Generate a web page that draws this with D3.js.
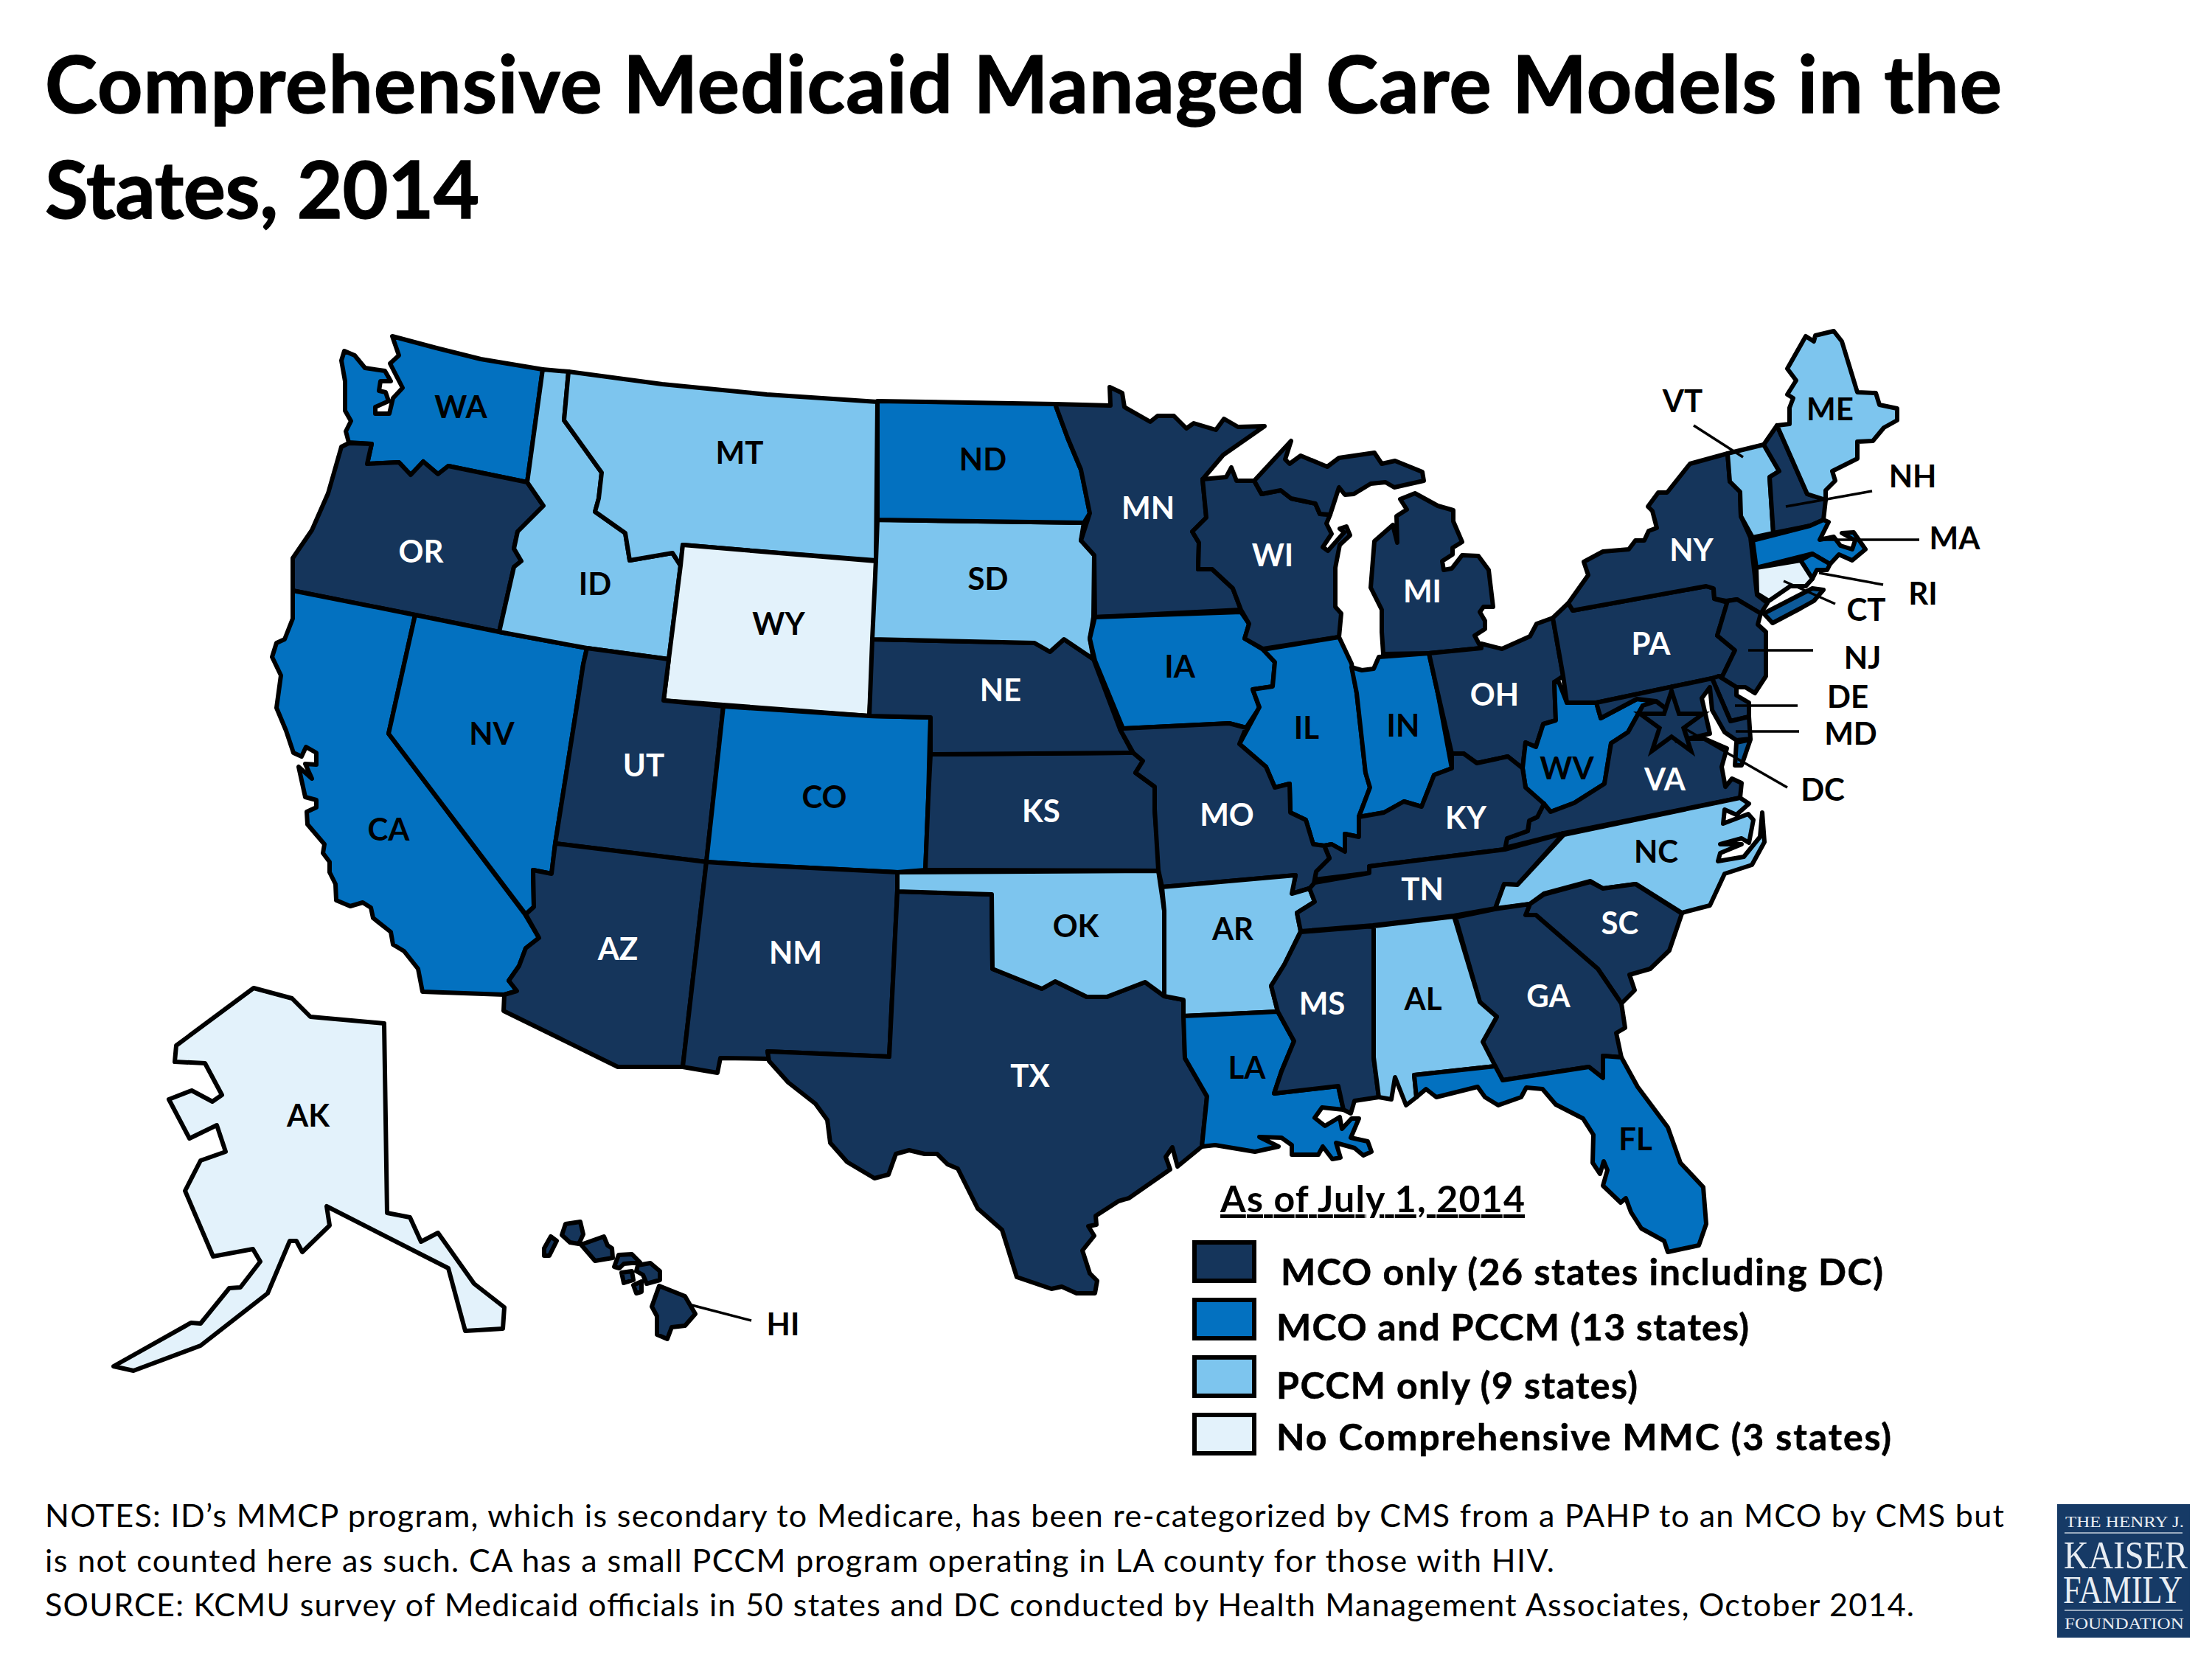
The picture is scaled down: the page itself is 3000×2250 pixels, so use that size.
<!DOCTYPE html>
<html>
<head>
<meta charset="utf-8">
<script src="https://d3js.org/d3.v7.min.js"></script>
<style>
  html, body { margin: 0; padding: 0; background: #fff; }
  text { font-family: Lato, sans-serif; }
</style>
</head>
<body>
<script>
// Plan categories, in legend order
var categories = ["MCO only", "MCO and PCCM", "PCCM only", "No MMC"];
var legendLabels = [
  "MCO only (26 states including DC)",
  "MCO and PCCM (13 states)",
  "PCCM only (9 states)",
  "No Comprehensive MMC (3 states)"
];
var mcoOnly = ["OR","UT","AZ","NM","TX","NE","KS","MN","MO","WI","MI","MS","TN","KY","GA","SC","OH","PA","NY","NJ","VA","NH","DE","MD","DC","HI"];
var mcoAndPccm = ["WA","CA","NV","ND","CO","IA","IL","IN","LA","FL","WV","MA","RI"];
var pccmOnly = ["ID","MT","SD","OK","AR","AL","NC","VT","ME"];
var noMmc = ["WY","AK","CT"];

// State outlines, in map units
var WA = [[532,456],[592,472],[652,487],[736,501],[715,654],[608,632],[594,643],[574,626],[557,644],[541,627],[498,629],[504,602],[473,600],[469,585],[476,571],[468,557],[468,517],[463,489],[467,476],[481,482],[495,499],[522,503],[530,517],[516,517],[514,530],[523,532],[527,544],[509,552],[509,561],[528,561],[533,540],[546,526],[529,493],[541,482]];
var OR = [[473,601],[463,606],[445,669],[423,719],[397,757],[397,801],[563,834],[677,857],[697,769],[707,761],[697,744],[702,721],[737,686],[715,654],[608,632],[594,643],[574,626],[557,644],[541,627],[498,629],[504,602]];
var CA = [[397,801],[397,839],[386,867],[375,872],[369,891],[381,916],[375,960],[388,991],[398,1021],[409,1026],[415,1013],[429,1021],[429,1037],[414,1036],[423,1056],[405,1040],[414,1081],[429,1085],[429,1095],[416,1101],[417,1118],[440,1145],[438,1157],[447,1169],[447,1183],[455,1199],[456,1221],[475,1229],[492,1224],[503,1231],[506,1245],[530,1264],[533,1281],[548,1290],[567,1314],[573,1345],[684,1349],[701,1344],[690,1330],[704,1310],[713,1286],[731,1272],[712,1240],[527,995],[563,834]];
var NV = [[563,834],[677,857],[796,879],[791,901],[782,960],[753,1144],[748,1185],[723,1180],[724,1230],[713,1240],[527,995]];
var ID = [[736,501],[771,504],[765,570],[816,641],[812,676],[807,694],[848,723],[854,760],[912,750],[923,767],[907,894],[796,879],[677,857],[697,769],[707,761],[697,744],[702,721],[737,686],[715,654]];
var MT = [[771,504],[898,521],[1040,535],[1190,545],[1188,760],[1020,747],[926,739],[923,767],[912,750],[854,760],[848,723],[807,694],[812,676],[816,641],[765,570]];
var WY = [[926,739],[1020,747],[1188,761],[1185,867],[1179,971],[900,950],[907,894],[923,767]];
var UT = [[796,879],[907,894],[900,950],[981,958],[958,1169],[753,1144],[782,960],[791,901]];
var CO = [[981,958],[1179,971],[1262,973],[1261,1000],[1259,1082],[1255,1180],[1217,1183],[1020,1173],[958,1169]];
var AZ = [[753,1144],[958,1169],[926,1447],[838,1447],[683,1371],[684,1349],[701,1344],[690,1330],[704,1310],[713,1286],[731,1272],[713,1240],[724,1230],[723,1180],[748,1185]];
var NM = [[958,1169],[1020,1173],[1217,1183],[1217,1207],[1206,1433],[1041,1426],[1043,1436],[977,1435],[973,1455],[926,1447]];
var TX = [[1217,1209],[1345,1213],[1346,1314],[1413,1341],[1431,1331],[1474,1352],[1501,1352],[1553,1332],[1579,1351],[1605,1356],[1607,1435],[1637,1487],[1630,1555],[1597,1582],[1590,1556],[1581,1569],[1587,1586],[1531,1625],[1517,1629],[1486,1649],[1487,1661],[1476,1663],[1484,1676],[1468,1696],[1478,1727],[1488,1737],[1485,1754],[1460,1754],[1440,1745],[1426,1748],[1379,1732],[1359,1668],[1326,1639],[1299,1585],[1285,1579],[1271,1565],[1254,1565],[1233,1560],[1215,1565],[1205,1593],[1186,1598],[1149,1576],[1126,1550],[1122,1519],[1106,1497],[1069,1468],[1043,1439],[1041,1426],[1206,1433]];
var OK = [[1217,1183],[1571,1181],[1579,1235],[1579,1351],[1553,1332],[1501,1352],[1474,1352],[1431,1331],[1413,1341],[1346,1314],[1345,1213],[1217,1209]];
var KS = [[1262,1023],[1537,1021],[1550,1032],[1540,1048],[1566,1067],[1566,1099],[1573,1181],[1255,1180],[1259,1082]];
var NE = [[1183,867],[1403,872],[1424,884],[1443,867],[1483,894],[1519,989],[1535,1019],[1537,1021],[1262,1023],[1262,973],[1179,971]];
var SD = [[1190,705],[1470,709],[1466,733],[1484,753],[1483,837],[1478,866],[1483,894],[1443,867],[1424,884],[1403,872],[1183,867],[1188,760]];
var ND = [[1190,544],[1431,548],[1448,594],[1466,637],[1478,696],[1470,709],[1190,705]];
var MN = [[1431,548],[1506,550],[1505,525],[1522,533],[1525,552],[1560,572],[1570,564],[1592,564],[1609,581],[1619,574],[1649,583],[1660,568],[1679,579],[1715,578],[1659,617],[1631,650],[1636,702],[1617,721],[1626,736],[1625,772],[1644,772],[1672,798],[1683,827],[1485,837],[1484,753],[1466,733],[1478,696],[1466,637],[1448,594]];
var IA = [[1485,837],[1683,830],[1694,846],[1688,866],[1713,881],[1729,898],[1726,931],[1699,935],[1708,960],[1690,987],[1667,981],[1523,988],[1485,896],[1478,866]];
var WI = [[1631,650],[1663,647],[1670,634],[1677,652],[1701,652],[1711,670],[1737,665],[1751,676],[1784,683],[1790,697],[1804,698],[1799,710],[1806,724],[1794,742],[1801,747],[1823,722],[1817,717],[1826,714],[1831,726],[1817,739],[1811,770],[1811,823],[1819,832],[1816,864],[1713,880],[1688,866],[1694,846],[1683,827],[1672,798],[1644,772],[1625,772],[1626,736],[1617,721],[1636,702]];
var MI_upper = [[1701,652],[1751,598],[1743,623],[1749,629],[1764,618],[1800,633],[1816,621],[1864,614],[1874,629],[1892,625],[1929,640],[1931,652],[1891,661],[1879,654],[1859,656],[1836,670],[1824,671],[1816,661],[1804,698],[1790,697],[1784,683],[1751,676],[1737,665],[1711,670]];
var MI_lower = [[1899,677],[1919,669],[1950,686],[1971,692],[1971,707],[1983,735],[1970,743],[1970,752],[1956,761],[1958,773],[1969,771],[1983,753],[2005,754],[2019,773],[2025,823],[2012,823],[2007,830],[2014,842],[2014,853],[2000,862],[2009,879],[1938,886],[1876,887],[1874,857],[1874,827],[1859,797],[1864,734],[1889,712],[1895,736],[1894,700],[1908,691]];
var IL = [[1816,864],[1833,900],[1840,940],[1852,1048],[1858,1068],[1843,1107],[1843,1135],[1824,1131],[1824,1155],[1806,1145],[1796,1147],[1781,1145],[1771,1112],[1750,1102],[1749,1063],[1729,1068],[1717,1040],[1681,1009],[1708,959],[1699,935],[1726,931],[1729,898],[1713,881]];
var IN = [[1833,905],[1847,909],[1863,907],[1870,891],[1938,886],[1950,940],[1969,1042],[1945,1051],[1928,1094],[1904,1087],[1877,1102],[1843,1108],[1858,1068],[1852,1048],[1840,940]];
var OH = [[1938,886],[2009,879],[2009,873],[2037,880],[2075,863],[2084,846],[2106,838],[2120,917],[2108,925],[2110,977],[2093,982],[2083,1013],[2069,1007],[2065,1042],[2045,1026],[2003,1035],[1985,1022],[1969,1022],[1950,940]];
var WV = [[2114,925],[2125,953],[2165,953],[2171,974],[2220,948],[2246,951],[2228,957],[2208,993],[2185,1008],[2176,1063],[2135,1089],[2103,1101],[2069,1068],[2065,1042],[2069,1007],[2083,1013],[2093,982],[2110,977],[2108,925]];
var PA = [[2106,838],[2127,818],[2133,828],[2314,795],[2324,798],[2325,812],[2343,817],[2329,862],[2353,882],[2336,917],[2322,920],[2165,953],[2125,953],[2120,917]];
var NY = [[2127,818],[2154,780],[2148,762],[2174,748],[2209,745],[2218,733],[2230,733],[2236,720],[2247,716],[2241,693],[2235,687],[2249,668],[2261,668],[2292,629],[2343,615],[2346,653],[2360,667],[2361,700],[2374,729],[2383,807],[2397,818],[2388,832],[2356,813],[2341,815],[2325,812],[2324,798],[2314,795],[2133,828]];
var NJ = [[2343,815],[2356,813],[2388,832],[2384,847],[2395,857],[2395,917],[2380,940],[2367,932],[2355,932],[2331,917],[2336,917],[2353,882],[2329,862]];
var DE = [[2322,920],[2331,917],[2355,932],[2355,943],[2372,953],[2372,972],[2347,978]];
var MD = [[2165,953],[2322,920],[2347,978],[2372,972],[2374,1002],[2355,1004],[2339,993],[2322,963],[2319,932],[2308,947],[2319,995],[2289,1002],[2283,988],[2267,973],[2258,960],[2246,951],[2220,948],[2171,974]];
var VA = [[2360,1082],[2362,1062],[2349,1056],[2340,1067],[2335,1040],[2342,1015],[2312,1002],[2289,1002],[2274,1005],[2258,960],[2246,951],[2228,957],[2208,993],[2185,1008],[2176,1063],[2135,1089],[2103,1101],[2094,1090],[2085,1108],[2074,1113],[2072,1127],[2044,1137],[2041,1150],[2121,1130]];
var KY = [[1969,1042],[1969,1022],[1985,1022],[2003,1035],[2045,1026],[2065,1042],[2069,1068],[2094,1090],[2085,1108],[2074,1113],[2072,1127],[2044,1137],[2041,1152],[1857,1175],[1857,1184],[1783,1193],[1785,1182],[1803,1164],[1796,1147],[1806,1145],[1824,1155],[1824,1131],[1843,1135],[1843,1108],[1877,1102],[1904,1087],[1928,1094],[1945,1051]];
var MO = [[1523,988],[1667,981],[1690,987],[1681,1009],[1717,1040],[1729,1068],[1749,1063],[1750,1102],[1771,1112],[1781,1145],[1796,1147],[1803,1164],[1785,1182],[1781,1203],[1752,1212],[1757,1187],[1576,1203],[1571,1180],[1566,1097],[1566,1067],[1540,1048],[1550,1032],[1537,1021],[1519,989]];
var AR = [[1576,1203],[1757,1187],[1752,1212],[1776,1205],[1783,1223],[1759,1238],[1764,1263],[1742,1308],[1724,1337],[1733,1372],[1605,1378],[1605,1356],[1579,1351],[1579,1235]];
var LA = [[1605,1378],[1733,1372],[1755,1412],[1738,1453],[1728,1483],[1815,1473],[1822,1505],[1793,1502],[1783,1516],[1797,1527],[1817,1515],[1820,1531],[1833,1517],[1843,1517],[1832,1543],[1855,1548],[1860,1562],[1849,1567],[1837,1557],[1812,1550],[1818,1570],[1807,1572],[1794,1555],[1788,1566],[1752,1566],[1752,1553],[1738,1543],[1708,1542],[1734,1555],[1702,1562],[1648,1553],[1630,1555],[1637,1487],[1607,1435]];
var MS = [[1764,1264],[1863,1256],[1863,1434],[1870,1488],[1837,1493],[1832,1510],[1822,1505],[1815,1473],[1728,1483],[1738,1453],[1755,1412],[1733,1372],[1724,1337],[1742,1308]];
var TN = [[1783,1197],[1857,1184],[1857,1175],[2041,1152],[2121,1130],[2058,1200],[2040,1199],[2028,1232],[1972,1242],[1862,1255],[1764,1263],[1759,1238],[1783,1223],[1776,1205]];
var NC = [[2121,1132],[2360,1082],[2372,1090],[2355,1105],[2339,1098],[2337,1117],[2371,1104],[2378,1112],[2372,1143],[2362,1137],[2333,1145],[2362,1145],[2333,1157],[2330,1168],[2365,1162],[2387,1135],[2390,1102],[2393,1142],[2376,1173],[2339,1185],[2319,1228],[2281,1238],[2219,1199],[2174,1205],[2157,1195],[2094,1212],[2075,1226],[2028,1232],[2040,1199],[2058,1200]];
var SC = [[2075,1226],[2094,1213],[2157,1196],[2174,1205],[2218,1199],[2281,1239],[2264,1289],[2238,1314],[2210,1322],[2217,1343],[2199,1361],[2167,1314],[2083,1241],[2069,1241]];
var GA = [[1974,1244],[2027,1233],[2075,1226],[2069,1241],[2083,1241],[2167,1314],[2199,1361],[2204,1394],[2192,1401],[2199,1434],[2174,1432],[2174,1462],[2155,1447],[2038,1465],[2028,1448],[2011,1413],[2030,1379],[2007,1359]];
var AL = [[1863,1256],[1972,1243],[2007,1359],[2030,1379],[2011,1413],[2028,1446],[1918,1458],[1921,1488],[1907,1499],[1892,1461],[1887,1491],[1870,1488],[1863,1434]];
var FL = [[1918,1458],[2028,1446],[2038,1465],[2155,1447],[2174,1462],[2174,1432],[2199,1434],[2221,1474],[2262,1529],[2279,1577],[2310,1610],[2314,1660],[2304,1689],[2262,1698],[2257,1683],[2226,1666],[2212,1644],[2205,1625],[2198,1631],[2174,1608],[2180,1587],[2175,1575],[2170,1592],[2160,1577],[2161,1539],[2147,1517],[2110,1498],[2092,1477],[2070,1475],[2063,1488],[2032,1499],[2014,1488],[2004,1474],[1948,1488],[1934,1477],[1921,1488]];
var VT = [[2343,615],[2392,603],[2413,639],[2400,647],[2405,723],[2377,729],[2361,700],[2360,667],[2346,653]];
var NH = [[2392,603],[2410,577],[2451,670],[2476,678],[2473,705],[2455,713],[2405,723],[2400,647],[2413,639]];
var ME = [[2410,577],[2427,575],[2427,553],[2432,540],[2424,535],[2436,516],[2424,500],[2449,456],[2460,463],[2462,455],[2487,449],[2498,463],[2519,532],[2544,533],[2549,549],[2573,554],[2573,570],[2555,580],[2540,598],[2519,599],[2519,622],[2485,639],[2489,652],[2476,665],[2476,678],[2451,670]];
var MA = [[2377,733],[2455,713],[2473,705],[2480,708],[2468,732],[2487,728],[2496,740],[2512,745],[2516,733],[2498,723],[2514,722],[2530,745],[2512,760],[2494,752],[2482,765],[2458,751],[2382,770]];
var RI = [[2442,760],[2458,751],[2482,765],[2478,773],[2464,773],[2458,785]];
var CT = [[2382,770],[2442,760],[2458,785],[2449,795],[2428,795],[2399,815],[2383,805]];
var AK = [[344,1340],[396,1354],[421,1379],[521,1388],[525,1645],[556,1651],[571,1684],[594,1672],[643,1741],[684,1773],[682,1802],[631,1805],[608,1720],[443,1636],[447,1662],[410,1698],[402,1683],[393,1683],[363,1754],[272,1825],[181,1859],[154,1853],[259,1794],[272,1795],[311,1747],[326,1746],[353,1711],[343,1694],[289,1704],[251,1615],[272,1574],[306,1562],[294,1526],[257,1544],[229,1491],[260,1479],[288,1494],[301,1485],[278,1442],[237,1440],[239,1418]];
var HI_islands = [
  [[747,1677],[755,1683],[745,1703],[738,1703],[738,1693]],
  [[767,1660],[787,1657],[791,1674],[785,1687],[773,1685],[762,1675]],
  [[788,1688],[819,1677],[824,1689],[830,1693],[831,1706],[807,1710]],
  [[839,1702],[857,1701],[868,1712],[846,1714],[840,1720],[833,1718]],
  [[865,1716],[882,1713],[895,1724],[895,1736],[877,1741],[872,1729],[863,1724]],
  [[843,1726],[857,1724],[859,1736],[846,1740]],
  [[859,1743],[870,1738],[870,1752],[863,1754]],
  [[894,1744],[929,1758],[943,1782],[929,1798],[911,1800],[905,1816],[891,1810],[891,1785],[884,1772]]
];
var longIsland = [[2392,832],[2458,798],[2473,800],[2460,815],[2442,825],[2404,845]];
var delmarvaTip = [[2355,1007],[2374,1003],[2362,1038],[2353,1038]];

// Label anchors in the same map units
var insideLabels = [
  ["WA",625,552],["OR",571,748],["ID",807,792],["MT",1003,614],["CA",527,1125],["NV",667,995],["UT",873,1038],["AZ",838,1287],
  ["ND",1333,623],["SD",1340,785],["NE",1357,936],["WY",1056,846],["CO",1118,1081],["KS",1412,1100],["OK",1459,1256],["NM",1079,1292],
  ["TX",1397,1459],["MN",1557,689],["WI",1726,753],["MI",1929,802],["IA",1600,904],["IL",1772,987],["IN",1903,984],["MO",1664,1105],
  ["KY",1988,1109],["OH",2027,942],["TN",1929,1206],["WV",2125,1042],["VA",2258,1057],["NC",2246,1155],["PA",2239,873],["NY",2294,746],
  ["ME",2482,555],["SC",2197,1252],["GA",2100,1351],["AL",1930,1355],["MS",1793,1361],["AR",1672,1260],["LA",1691,1448],["FL",2218,1545],["AK",418,1513]
];
var sideLabels = [["VT",2282,544],["NH",2594,646],["MA",2651,730],["RI",2608,805],["CT",2531,827],["NJ",2526,892],["DE",2506,945],["MD",2510,995],["DC",2472,1071],["HI",1062,1796]];
var leaders = [
  [[2297,577],[2364,620]],[[2539,666],[2422,687]],[[2467,732],[2603,732]],[[2467,777],[2554,793]],[[2419,788],[2489,819]],
  [[2371,882],[2459,882]],[[2353,957],[2438,957]],[[2354,992],[2440,992]],[[2283,987],[2424,1068]],[[938,1770],[1019,1791]]
];
var dcStar = [2267,982];

var outlines = new Map([
  ["WA",[WA]],["OR",[OR]],["CA",[CA]],["NV",[NV]],["ID",[ID]],["MT",[MT]],["WY",[WY]],["UT",[UT]],["CO",[CO]],["AZ",[AZ]],["NM",[NM]],
  ["TX",[TX]],["OK",[OK]],["KS",[KS]],["NE",[NE]],["SD",[SD]],["ND",[ND]],["MN",[MN]],["IA",[IA]],["WI",[WI]],["MI",[MI_upper,MI_lower]],
  ["IL",[IL]],["IN",[IN]],["OH",[OH]],["WV",[WV]],["PA",[PA]],["NY",[NY]],["NJ",[NJ]],["DE",[DE]],["MD",[MD]],["VA",[VA]],["KY",[KY]],
  ["MO",[MO]],["AR",[AR]],["LA",[LA]],["MS",[MS]],["TN",[TN]],["NC",[NC]],["SC",[SC]],["GA",[GA]],["AL",[AL]],["FL",[FL]],["VT",[VT]],
  ["NH",[NH]],["ME",[ME]],["MA",[MA]],["RI",[RI]],["CT",[CT]],["AK",[AK]],["HI",HI_islands]
]);

var categoryOf = new Map();
[mcoOnly, mcoAndPccm, pccmOnly, noMmc].forEach(function(list, i) {
  list.forEach(function(s) { categoryOf.set(s, categories[i]); });
});

var color = d3.scaleOrdinal()
  .domain(categories)
  .range(["#15355b", "#0371c0", "#7dc5ee", "#e3f2fb"]);

var svg = d3.select("body").append("svg")
  .attr("width", 3000)
  .attr("height", 2250);

var path = d3.geoPath(d3.geoIdentity());

function closed(ring) { return ring.concat([ring[0]]); }
function toFeature(name, rings) {
  return {
    type: "Feature",
    properties: { name: name },
    geometry: { type: "MultiPolygon", coordinates: rings.map(function(r) { return [closed(r)]; }) }
  };
}

var features = Array.from(outlines, function(d) { return toFeature(d[0], d[1]); });

// title
svg.selectAll(".title")
  .data([["Comprehensive Medicaid Managed Care Models in the", 153, 2654], ["States, 2014", 296, 589]])
  .enter().append("text")
  .attr("class", "title")
  .attr("x", 61)
  .attr("y", function(d) { return d[1]; })
  .attr("textLength", function(d) { return d[2]; })
  .attr("font-size", 107)
  .attr("font-weight", 700)
  .attr("stroke", "#000")
  .attr("stroke-width", 1.5)
  .text(function(d) { return d[0]; });

// map
svg.selectAll(".state")
  .data(features)
  .enter().append("path")
  .attr("class", "state")
  .attr("d", path)
  .attr("fill", function(d) { return color(categoryOf.get(d.properties.name)); })
  .attr("stroke", "#000")
  .attr("stroke-width", 6)
  .attr("stroke-linejoin", "round");

svg.selectAll(".shore")
  .data([longIsland, delmarvaTip].map(function(r) { return toFeature("shore", [r]); }))
  .enter().append("path")
  .attr("class", "shore")
  .attr("d", path)
  .attr("fill", "#0d5a99")
  .attr("stroke", "#000")
  .attr("stroke-width", 6)
  .attr("stroke-linejoin", "round");

svg.append("path")
  .attr("transform", "translate(" + dcStar + ")")
  .attr("d", d3.symbol(d3.symbolStar, 2273))
  .attr("fill", color("MCO only"))
  .attr("stroke", "#000")
  .attr("stroke-width", 6);

svg.selectAll(".leader")
  .data(leaders)
  .enter().append("path")
  .attr("class", "leader")
  .attr("d", function(d) { return path({ type: "LineString", coordinates: d }); })
  .attr("fill", "none")
  .attr("stroke", "#000")
  .attr("stroke-width", 3.5);

svg.selectAll(".label")
  .data(insideLabels.concat(sideLabels))
  .enter().append("text")
  .attr("class", "label")
  .attr("x", function(d) { return d[1]; })
  .attr("y", function(d) { return d[2]; })
  .attr("dy", "0.36em")
  .attr("text-anchor", "middle")
  .attr("font-size", 42)
  .attr("font-weight", 700)
  .attr("fill", function(d) {
    var dark = categoryOf.get(d[0]) === "MCO only" && insideLabels.indexOf(d) >= 0;
    return dark ? "#fff" : "#000";
  })
  .text(function(d) { return d[0]; });

// legend
svg.append("text")
  .attr("x", 1655)
  .attr("y", 1644)
  .attr("textLength", 413)
  .attr("font-size", 50)
  .attr("font-weight", 700)
  .attr("text-decoration", "underline")
  .text("As of July 1, 2014");

var legendY = d3.scalePoint().domain(categories).range([1710, 1944]);
var legendRow = svg.selectAll(".legend-row")
  .data(categories)
  .enter().append("g")
  .attr("class", "legend-row")
  .attr("transform", function(d) { return "translate(0," + legendY(d) + ")"; });

legendRow.append("rect")
  .attr("x", 1620)
  .attr("y", -25)
  .attr("width", 81)
  .attr("height", 52)
  .attr("fill", function(d) { return color(d); })
  .attr("stroke", "#000")
  .attr("stroke-width", 6);

legendRow.append("text")
  .attr("x", function(d, i) { return i === 0 ? 1737 : 1731; })
  .attr("y", function(d, i) { return [15, 12, 13, 5][i]; })
  .attr("dy", "0.36em")
  .attr("textLength", function(d, i) { return [817, 641, 490, 834][i]; })
  .attr("font-size", 50)
  .attr("font-weight", 700)
  .attr("stroke", "#000")
  .attr("stroke-width", 0.6)
  .text(function(d, i) { return legendLabels[i]; });

// notes
svg.selectAll(".note")
  .data([
    ["NOTES: ID\u2019s MMCP program, which is secondary to Medicare, has been re-categorized by CMS from a PAHP to an MCO by CMS but", 2657],
    ["is not counted here as such. CA has a small PCCM program operating in LA county for those with HIV.", 2047],
    ["SOURCE: KCMU survey of Medicaid officials in 50 states and DC conducted by Health Management Associates, October 2014.", 2535]
  ])
  .enter().append("text")
  .attr("class", "note")
  .attr("x", 61)
  .attr("y", function(d, i) { return 2071 + i * 60.5; })
  .attr("textLength", function(d) { return d[1]; })
  .attr("font-size", 43)
  .text(function(d) { return d[0]; });

// foundation logo, each line squeezed to its width in the picture
var logo = svg.append("g");
logo.append("rect")
  .attr("x", 2790).attr("y", 2040).attr("width", 180).attr("height", 181)
  .attr("fill", "#163a66");
logo.selectAll("text")
  .data([["THE HENRY J.", 2071, 22, 161, 2801], ["KAISER", 2127, 52, 168, 2799], ["FAMILY", 2174, 52, 162, 2798], ["FOUNDATION", 2209, 22, 162, 2800]])
  .enter().append("text")
  .attr("font-size", function(d) { return d[2]; })
  .style("font-family", "'Liberation Serif', serif")
  .attr("fill", "#e8edf3")
  .text(function(d) { return d[0]; })
  .attr("transform", function(d) {
    var sx = d[3] / this.getComputedTextLength();
    return "translate(" + d[4] + "," + d[1] + ") scale(" + sx + ",1)";
  });
logo.selectAll("line")
  .data([2079, 2184])
  .enter().append("line")
  .attr("x1", 2800).attr("x2", 2960)
  .attr("y1", function(d) { return d; })
  .attr("y2", function(d) { return d; })
  .attr("stroke", "#c5d0dd")
  .attr("stroke-width", 1.5);
</script>
</body>
</html>
